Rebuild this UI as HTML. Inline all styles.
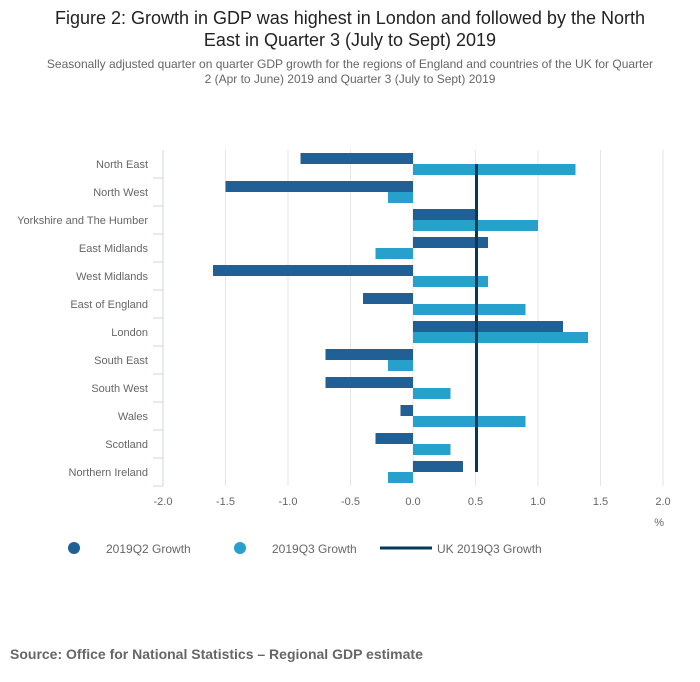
<!DOCTYPE html>
<html><head><meta charset="utf-8">
<style>
body{margin:0;background:#fff;font-family:"Liberation Sans",sans-serif;}
#wrap{position:relative;width:700px;height:682px;overflow:hidden;}
.t{position:absolute;left:0;width:700px;text-align:center;}
</style></head>
<body>
<div id="wrap">
<div class="t" style="top:7px;font-size:18px;color:#222;line-height:22px;">Figure 2: Growth in GDP was highest in London and followed by the North<br>East in Quarter 3 (July to Sept) 2019</div>
<div class="t" style="top:57px;font-size:12px;color:#666;line-height:15px;">Seasonally adjusted quarter on quarter GDP growth for the regions of England and countries of the UK for Quarter<br>2 (Apr to June) 2019 and Quarter 3 (July to Sept) 2019</div>
<svg id="chart" width="700" height="682" style="position:absolute;left:0;top:0"></svg>
<div style="position:absolute;left:10px;top:646px;font-size:14px;font-weight:bold;color:#666;">Source: Office for National Statistics – Regional GDP estimate</div>
</div>
<script>
const categories=["North East","North West","Yorkshire and The Humber","East Midlands","West Midlands","East of England","London","South East","South West","Wales","Scotland","Northern Ireland"];
const q2Values=[-0.9,-1.5,0.5,0.6,-1.6,-0.4,1.2,-0.7,-0.7,-0.1,-0.3,0.4];
const q3Values=[1.3,-0.2,1.0,-0.3,0.6,0.9,1.4,-0.2,0.3,0.9,0.3,-0.2];
const ukValue=0.5;
const ticks=[-2,-1.5,-1,-0.5,0,0.5,1,1.5,2];
const tickLabels=["-2.0","-1.5","-1.0","-0.5","0.0","0.5","1.0","1.5","2.0"];

const NS="http://www.w3.org/2000/svg";
const svg=document.getElementById('chart');
const x=v=>413+v*125;
const top0=150,rowH=28;
const yRow=i=>top0+i*rowH;
function mk(tag,attrs,text){const e=document.createElementNS(NS,tag);for(const k in attrs)e.setAttribute(k,attrs[k]);if(text!=null)e.textContent=text;svg.appendChild(e);return e;}
ticks.forEach((t,i)=>{
  const g=mk('line',{x1:x(t),x2:x(t),y1:top0,y2:top0+categories.length*rowH,stroke:'#e6e6e6','stroke-width':1});
  
  
  const l=mk('text',{x:x(t),y:505,'text-anchor':'middle','font-size':11,fill:'#666'},tickLabels[i]);
  
  
});
const ax=mk('line',{x1:163,x2:163,y1:top0,y2:top0+categories.length*rowH,stroke:'#ccd6eb','stroke-width':1});


categories.forEach((c,i)=>{
  const yc=yRow(i)+rowH/2;
  const tk=mk('line',{x1:153,x2:163,y1:yRow(i)+rowH,y2:yRow(i)+rowH,stroke:'#ccd6eb'});
  
  
  const lb=mk('text',{x:148,y:yc+4,'text-anchor':'end','font-size':11,fill:'#666'},c);
  
  
  const a=q2Values[i],b=q3Values[i];
  const r1=mk('rect',{x:Math.min(x(0),x(a)),y:yc-11,width:Math.abs(x(a)-x(0)),height:11,fill:'#206095'});
  
  
  const r2=mk('rect',{x:Math.min(x(0),x(b)),y:yc,width:Math.abs(x(b)-x(0)),height:11,fill:'#27a0cc'});
  
  
});
const uk=mk('line',{x1:x(ukValue)+1,x2:x(ukValue)+1,y1:yRow(0)+rowH/2,y2:yRow(categories.length-1)+rowH/2,stroke:'#003c57','stroke-width':3});


const pu=mk('text',{x:664,y:526,'text-anchor':'end','font-size':11,fill:'#666'},'%');


const l1=mk('circle',{cx:74,cy:548,r:6,fill:'#206095'});


const t1=mk('text',{x:106,y:553,'font-size':12,fill:'#666'},'2019Q2 Growth');


const l2=mk('circle',{cx:240,cy:548,r:6,fill:'#27a0cc'});


const t2=mk('text',{x:272,y:553,'font-size':12,fill:'#666'},'2019Q3 Growth');


const l3=mk('line',{x1:380,x2:432,y1:548,y2:548,stroke:'#003c57','stroke-width':3});


const t3=mk('text',{x:437,y:553,'font-size':12,fill:'#666'},'UK 2019Q3 Growth');


</script>
</body></html>
